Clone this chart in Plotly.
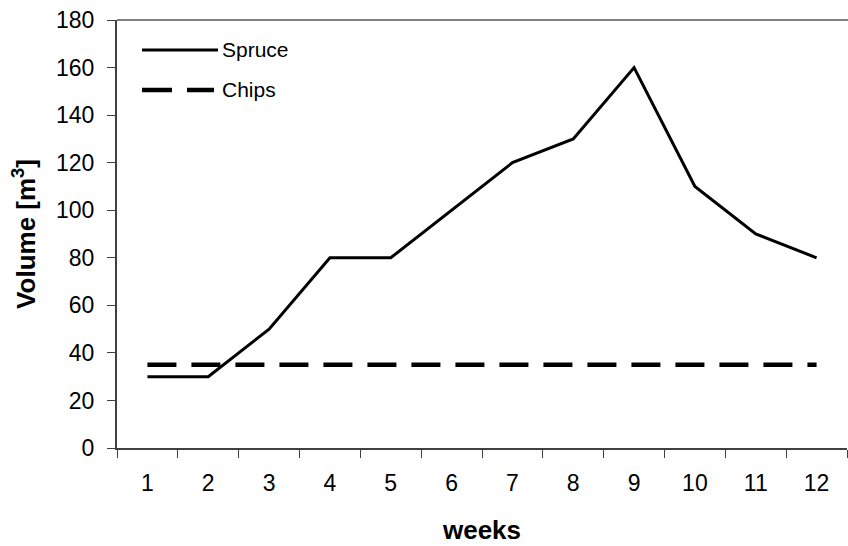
import plotly.graph_objects as go

weeks = [str(i) for i in range(1, 13)]
spruce = [30, 30, 50, 80, 80, 100, 120, 130, 160, 110, 90, 80]
chips = [35] * 12
y_ticks = list(range(0, 181, 20))

font = "Liberation Sans, Arial, sans-serif"

fig = go.Figure()

fig.add_trace(go.Scatter(
    x=weeks, y=spruce, mode="lines", name="Spruce",
    line=dict(color="black", width=3),
    showlegend=False
))

fig.add_trace(go.Scatter(
    x=weeks, y=chips, mode="lines", name="Chips",
    line=dict(color="black", width=4.5, dash="29px,15px"),
    showlegend=False
))

# hand-drawn legend so the sample lines are as long as in the original
W, H = 730, 428
fig.add_shape(type="line", xref="paper", yref="paper",
              x0=25 / W, x1=101 / W, y0=(448 - 50) / H, y1=(448 - 50) / H,
              line=dict(color="black", width=3))
fig.add_shape(type="line", xref="paper", yref="paper",
              x0=25 / W, x1=97 / W, y0=(448 - 90) / H, y1=(448 - 90) / H,
              line=dict(color="black", width=4.5, dash="30px,15px"))
fig.add_annotation(text="Spruce", xref="paper", yref="paper",
                   x=103 / W, y=(448 - 50) / H, xanchor="left", yanchor="middle",
                   showarrow=False, font=dict(family=font, size=21, color="black"))
fig.add_annotation(text="Chips", xref="paper", yref="paper",
                   x=103 / W, y=(448 - 90) / H, xanchor="left", yanchor="middle",
                   showarrow=False, font=dict(family=font, size=21, color="black"))

# grey frame line along the top
fig.add_shape(type="line", xref="paper", yref="paper", x0=0, x1=1.01, y0=1, y1=1,
              line=dict(color="#808080", width=2))

fig.update_xaxes(
    type="category",
    range=[-0.5, 11.5],
    tickson="boundaries",
    ticks="outside", ticklen=8, tickcolor="#404040",
    showline=True, linecolor="#404040", linewidth=2,
    showgrid=False, zeroline=False,
    tickfont=dict(family=font, size=23, color="black"),
    ticklabelstandoff=13,
    title=dict(text="<b>weeks</b>", font=dict(family=font, size=26, color="black"), standoff=26),
)

fig.update_yaxes(
    range=[0, 180],
    tickvals=y_ticks,
    ticks="outside", ticklen=8, tickcolor="#404040",
    showline=True, linecolor="#404040", linewidth=2,
    showgrid=False, zeroline=False,
    tickfont=dict(family=font, size=23, color="black"),
    ticklabelstandoff=8,
    title=dict(text="<b>Volume [m<sup>3</sup>]</b>", font=dict(family=font, size=26, color="black"), standoff=13),
)

fig.update_layout(
    width=848, height=546,
    margin=dict(l=117, r=1, t=20, b=98),
    plot_bgcolor="white", paper_bgcolor="white",
    showlegend=False,
)

fig.write_html("out.html",
               config={"displayModeBar": False},
               post_script="document.body.style.margin='0';document.body.style.overflow='hidden';")
